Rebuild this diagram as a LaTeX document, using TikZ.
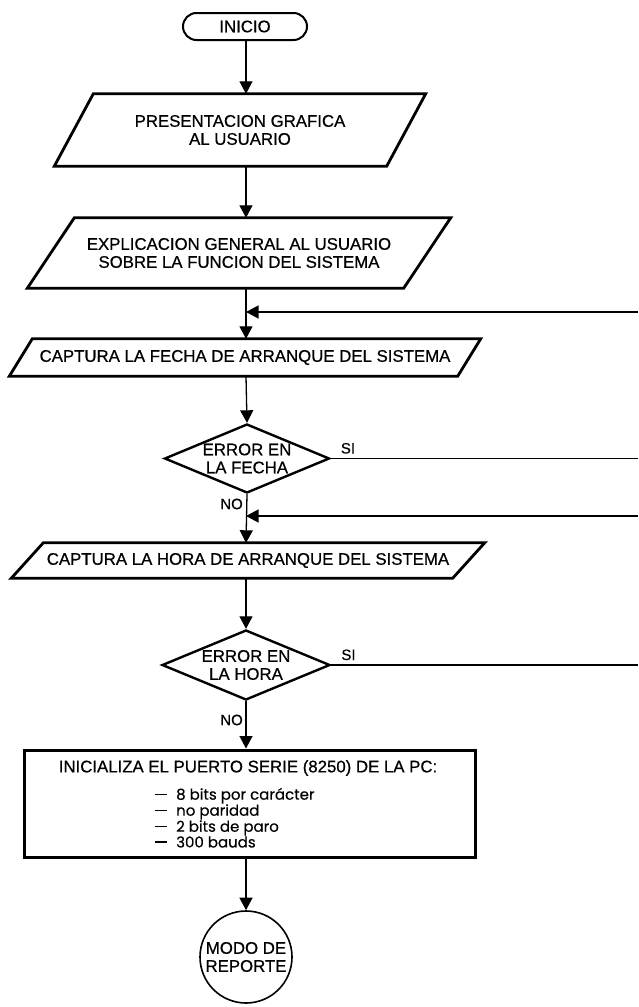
\documentclass[tikz,border=0pt]{standalone}
\usepackage{fontspec}
\setmainfont{Liberation Sans}[FakeBold=0.6]
\newfontfamily\itemfont{Poppins}[FakeBold=0.4]
\usetikzlibrary{arrows.meta,shapes.geometric}
\newcommand\mainsize{\fontsize{16.8}{18}\selectfont}
\newcommand\lblsize{\fontsize{15}{16}\selectfont}
\newcommand\itemdash{\rule[4.5pt]{12pt}{1.5pt}}

\begin{document}
\begin{tikzpicture}[x=1pt,y=-1pt,
  flow/.style={line width=1.3pt,-{Triangle[length=12.5pt,width=13pt]}},
  plain/.style={line width=1.3pt},
  term/.style={draw,line width=2pt,rounded corners=13.5pt,minimum width=124pt,
               minimum height=27pt,inner sep=0pt,font=\mainsize},
  iotext/.style={inner sep=0pt,align=center,font=\mainsize},
  outline/.style={line width=2.8pt,line join=miter},
  decision/.style={draw,diamond,line width=2.4pt,inner sep=0pt,aspect=2.4,
                   align=center,font=\mainsize},
  procbox/.style={draw,line width=3pt,minimum width=451pt,minimum height=107pt,inner sep=0pt},
  endnode/.style={draw,circle,line width=1.6pt,minimum size=92pt,inner sep=0pt,
                  align=center,font=\mainsize},
  lbl/.style={inner sep=0pt,font=\lblsize}]
\useasboundingbox (0,0) rectangle (638,1007);

% main vertical axis
\coordinate (ax) at (246,0);

% start
\node[term] (inicio) at (245,26.5) {INICIO};

% input / output boxes (text nodes, outlines drawn as parallelograms)
\node[iotext,minimum width=332pt,minimum height=72pt] (p1) at (240,130)
  {PRESENTACION GRAFICA\\AL USUARIO};
\draw[outline] ([xshift=19.5pt]p1.north west) -- ([xshift=19.5pt]p1.north east)
  -- ([xshift=-19.5pt]p1.south east) -- ([xshift=-19.5pt]p1.south west) -- cycle;

\node[iotext,minimum width=376pt,minimum height=70pt] (p2) at (239,253)
  {EXPLICACION GENERAL AL USUARIO\\SOBRE LA FUNCION DEL SISTEMA};
\draw[outline] ([xshift=23.5pt]p2.north west) -- ([xshift=23.5pt]p2.north east)
  -- ([xshift=-23.5pt]p2.south east) -- ([xshift=-23.5pt]p2.south west) -- cycle;

\node[iotext,minimum width=448pt,minimum height=37pt] (p3) at (245,357.5)
  {CAPTURA LA FECHA DE ARRANQUE DEL SISTEMA};
\draw[outline] ([xshift=11.5pt]p3.north west) -- ([xshift=11.5pt]p3.north east)
  -- ([xshift=-11.5pt]p3.south east) -- ([xshift=-11.5pt]p3.south west) -- cycle;

\node[iotext,minimum width=441pt,minimum height=35pt] (p4) at (248,560.5)
  {CAPTURA LA HORA DE ARRANQUE DEL SISTEMA};
\draw[outline] ([xshift=16pt]p4.north west) -- ([xshift=16pt]p4.north east)
  -- ([xshift=-16pt]p4.south east) -- ([xshift=-16pt]p4.south west) -- cycle;

% decisions
\node[decision,minimum width=165pt,minimum height=69pt] (d1) at (247,458.5)
  {ERROR EN\\LA FECHA};
\node[decision,minimum width=168pt,minimum height=70pt] (d2) at (246,665)
  {ERROR EN\\LA HORA};

% serial port initialisation
\node[procbox] (init) at (249.5,803.5) {};
\node[iotext] (inittitle) at (248,768) {INICIALIZA EL PUERTO SERIE (8250) DE LA PC:};
\node[anchor=west,inner sep=0pt,font=\itemfont\fontsize{15}{15.4}\selectfont] (inititems) at (155,820)
  {\begin{tabular}{@{}l@{\hspace{9pt}}l@{}}
   \itemdash & 8 bits por carácter\\
   \itemdash & no paridad\\
   \itemdash & 2 bits de paro\\
   \itemdash & 300 bauds
   \end{tabular}};

% connector to the report mode
\node[endnode] (fin) at (246,957) {MODO DE\\REPORTE};

% loop ends at the right border
\coordinate (back1) at (638,312);
\coordinate (si1end) at (638,458.5);
\coordinate (back2) at (638,516);
\coordinate (si2end) at (638,665);

% main flow
\draw[flow] (ax |- inicio.south) -- (ax |- p1.north);
\draw[flow] (ax |- p1.south) -- (ax |- p2.north);
\draw[flow] (ax |- p2.south) -- (ax |- p3.north);
\draw[flow] (ax |- p3.south) -- (d1.north);
\draw[flow] (d1.south) -- (ax |- p4.north);
\draw[flow] (ax |- p4.south) -- (d2.north);
\draw[flow] (d2.south) -- (ax |- init.north);
\draw[flow] (ax |- init.south) -- (fin.north);

% returns and error branches
\draw[flow] (back1) -- (ax |- back1);
\draw[flow] (back2) -- (ax |- back2);
\draw[plain] (d1.east) -- (si1end);
\draw[plain] (d2.east) -- (si2end);

% branch labels
\node[lbl,anchor=base west] (si1) at ([xshift=10pt,yshift=5pt]d1.east) {SI};
\node[lbl,anchor=base west] (si2) at ([xshift=10pt,yshift=5pt]d2.east) {SI};
\node[lbl,anchor=east] (no1) at (243,504) {NO};
\node[lbl,anchor=east] (no2) at (243,720) {NO};
\end{tikzpicture}
\end{document}
